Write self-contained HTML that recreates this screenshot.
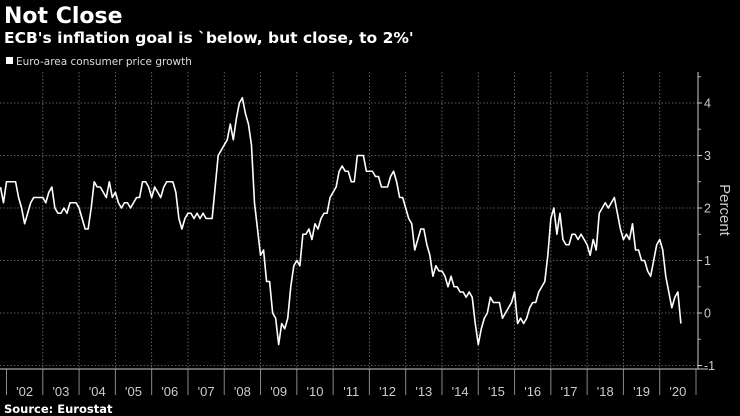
<!DOCTYPE html>
<html><head><meta charset="utf-8">
<style>
html,body{margin:0;padding:0;background:#000;}
body{width:740px;height:416px;overflow:hidden;position:relative;font-family:"Liberation Sans","DejaVu Sans",sans-serif;color:#fff;}
svg{position:absolute;left:0;top:0;}
</style></head>
<body>
<svg id="chart" width="740" height="416" viewBox="0 0 740 416" xmlns="http://www.w3.org/2000/svg">
  <text x="4" y="23" font-size="22" font-weight="bold" fill="#fff" font-family="DejaVu Sans, sans-serif">Not Close</text>
  <text x="4" y="43" font-size="15.5" font-weight="bold" fill="#fff" font-family="DejaVu Sans, sans-serif">ECB's inflation goal is `below, but close, to 2%'</text>
  <rect x="6" y="57" width="7" height="7" fill="#fff"/>
  <text x="16" y="65" font-size="10.5" fill="#ddd" font-family="DejaVu Sans, sans-serif">Euro-area consumer price growth</text>
  <g id="grid"></g>
  <g id="axes"></g>
  <path id="line" fill="none" stroke="#fff" stroke-width="1.6" stroke-linejoin="round"/>
  <text transform="translate(720,210) rotate(90)" text-anchor="middle" font-size="15" fill="#ccc">Percent</text>
  <text x="4" y="413" font-size="11.5" font-weight="bold" fill="#fff" font-family="DejaVu Sans, sans-serif">Source: Eurostat</text>
</svg>
<script>
const startYear = 2001, startMonth = 10; // Nov 2001 (0-based month)
const cpi = [
2.4,2.1,
2.5,2.5,2.5,2.5,2.2,2.0,1.7,1.9,2.1,2.2,2.2,2.2,
2.2,2.1,2.3,2.4,2.0,1.9,1.9,2.0,1.9,2.1,2.1,2.1,
2.0,1.8,1.6,1.6,2.0,2.5,2.4,2.4,2.3,2.2,2.5,2.2,
2.3,2.1,2.0,2.1,2.1,2.0,2.1,2.2,2.2,2.5,2.5,2.4,
2.2,2.4,2.3,2.2,2.4,2.5,2.5,2.5,2.3,1.8,1.6,1.8,
1.9,1.9,1.8,1.9,1.8,1.9,1.8,1.8,1.8,2.4,3.0,3.1,
3.2,3.3,3.6,3.3,3.7,4.0,4.1,3.8,3.6,3.2,2.1,1.6,
1.1,1.2,0.6,0.6,0.0,-0.1,-0.6,-0.2,-0.3,-0.1,0.5,0.9,
1.0,0.9,1.5,1.5,1.6,1.4,1.7,1.6,1.8,1.9,1.9,2.2,
2.3,2.4,2.7,2.8,2.7,2.7,2.5,2.5,3.0,3.0,3.0,2.7,
2.7,2.7,2.6,2.6,2.4,2.4,2.4,2.6,2.7,2.5,2.2,2.2,
2.0,1.8,1.7,1.2,1.4,1.6,1.6,1.3,1.1,0.7,0.9,0.8,
0.8,0.7,0.5,0.7,0.5,0.5,0.4,0.4,0.3,0.4,0.3,-0.2,
-0.6,-0.3,-0.1,0.0,0.3,0.2,0.2,0.2,-0.1,0.0,0.1,0.2,
0.4,-0.2,-0.1,-0.2,-0.1,0.1,0.2,0.2,0.4,0.5,0.6,1.1,
1.8,2.0,1.5,1.9,1.4,1.3,1.3,1.5,1.5,1.4,1.5,1.4,
1.3,1.1,1.4,1.2,1.9,2.0,2.1,2.0,2.1,2.2,1.9,1.6,
1.4,1.5,1.4,1.7,1.2,1.2,1.0,1.0,0.8,0.7,1.0,1.3,
1.4,1.2,0.7,0.4,0.1,0.3,0.4,-0.2
];
const yearLabels = ["'02","'03","'04","'05","'06","'07","'08","'09","'10","'11","'12","'13","'14","'15","'16","'17","'18","'19","'20"];
const yTicks = [-1,0,1,2,3,4];

const NS = "http://www.w3.org/2000/svg";
const x0 = 6.5, yearW = 36.29, firstYear = 2002;
function xScale(yearFrac){ return x0 + (yearFrac - firstYear) * yearW; }
function yScale(v){ return 313 - v * 52.5; }
function mk(tag, attrs, parent){ const e = document.createElementNS(NS, tag); for (const k in attrs) e.setAttribute(k, attrs[k]); parent.appendChild(e); return e; }

const grid = document.getElementById('grid');
const axes = document.getElementById('axes');
const axisX = 698, plotTop = 72, plotBottom = 369;

yTicks.forEach(function(t){
  const y = yScale(t);
  const g = mk('line', {x1:0, x2:axisX, y1:y, y2:y, stroke:'#777', 'stroke-width':0.8, 'stroke-dasharray':'1.5,2'}, grid);
  
  
  const tk = mk('line', {x1:axisX, x2:axisX+4, y1:y, y2:y, stroke:'#ccc', 'stroke-width':1}, axes);
  
  
  const lb = mk('text', {x:axisX+6, y:y+4.5, 'font-size':12.5, fill:'#ccc'}, axes);
  lb.textContent = String(t).replace('-', '-');
  
  
});
for (let t = -1; t < 4.6; t += 0.5) {
  if (Number.isInteger(t)) continue;
  const y = yScale(t);
  const mt = mk('line', {x1:axisX, x2:axisX+3, y1:y, y2:y, stroke:'#aaa', 'stroke-width':1}, axes);
  
  
}
const ya = mk('line', {x1:axisX, x2:axisX, y1:plotTop, y2:plotBottom, stroke:'#ccc', 'stroke-width':1}, axes);



for (let i = 0; i <= yearLabels.length; i++) {
  const x = xScale(firstYear + i);
  if (i > 0 && i < yearLabels.length) {
    const g = mk('line', {x1:x, x2:x, y1:plotTop, y2:plotBottom, stroke:'#777', 'stroke-width':0.8, 'stroke-dasharray':'1.5,2'}, grid);
    
    
  }
  const tk = mk('line', {x1:x, x2:x, y1:plotBottom, y2:395, stroke:'#888', 'stroke-width':1}, axes);
  
  
  if (i < yearLabels.length) {
    const lb = mk('text', {x:x + yearW/2, y:396, 'font-size':13, fill:'#ccc', 'text-anchor':'middle'}, axes);
    lb.textContent = yearLabels[i];
    
    
  }
}
const xa = mk('line', {x1:0, x2:axisX+10, y1:plotBottom, y2:plotBottom, stroke:'#ccc', 'stroke-width':1}, axes);



let d = '';
cpi.forEach(function(v, i){
  const yf = startYear + (startMonth + i) / 12;
  d += (i ? 'L' : 'M') + xScale(yf).toFixed(2) + ',' + yScale(v).toFixed(2);
});
document.getElementById('line').setAttribute('d', d);
</script>
</body></html>
